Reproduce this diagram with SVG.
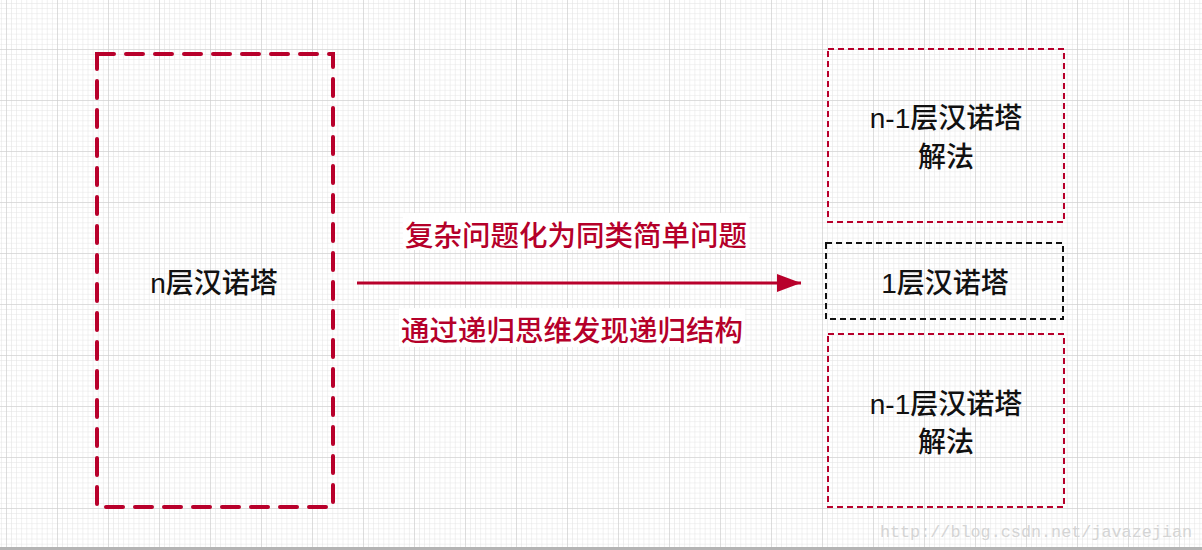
<svg xmlns="http://www.w3.org/2000/svg" width="1202" height="550" viewBox="0 0 1202 550">
<defs>
<pattern id="minor" patternUnits="userSpaceOnUse" x="6" y="-2" width="5.1" height="5.1">
<path d="M0 0H5.1M0 0V5.1" fill="none" stroke="#e2e2e2" stroke-width="1"/>
</pattern>
<pattern id="major" patternUnits="userSpaceOnUse" x="6" y="-2" width="51" height="51">
<path d="M0 0H51M0 0V51" fill="none" stroke="#cacaca" stroke-width="1"/>
</pattern>
<marker id="arrow" viewBox="0 0 24 18" refX="24" refY="9" markerWidth="24" markerHeight="18" markerUnits="userSpaceOnUse" orient="auto">
<path d="M0 0L24 9L0 18Z" fill="#b8002b"/>
</marker>
<style>
.big{fill:none;stroke:#b8002b;stroke-width:4;stroke-dasharray:17 12;stroke-linecap:round}
.red{fill:none;stroke:#b8002b;stroke-width:2;stroke-dasharray:6 4}
.blk{fill:none;stroke:#111;stroke-width:2;stroke-dasharray:6 4}
.t{font-family:"Liberation Sans","Noto Sans CJK SC",sans-serif;font-size:28px;fill:#111;text-anchor:middle;font-weight:500}
.lbl{font-family:"Noto Sans CJK SC",serif;font-size:28.5px;fill:#b5002a;text-anchor:middle;font-weight:500}
</style>
</defs>
<rect width="1202" height="550" fill="#fff"/>
<rect width="1202" height="550" fill="url(#minor)"/>
<rect width="1202" height="550" fill="url(#major)"/>
<rect x="0" y="547" width="1202" height="3" fill="#b4b4b4"/>
<g id="n-tower">
<rect class="big" x="97" y="54" width="236" height="453"/>
<text class="t" x="214" y="293">n层汉诺塔</text>
</g>
<g id="top-sub">
<rect class="red" x="828" y="49" width="236" height="173"/>
<text class="t" x="946" y="128">n-1层汉诺塔</text>
<text class="t" x="946" y="167">解法</text>
</g>
<g id="one-tower">
<rect class="blk" x="826" y="243" width="237" height="76"/>
<text class="t" x="945" y="293">1层汉诺塔</text>
</g>
<g id="bottom-sub">
<rect class="red" x="828" y="334" width="236" height="173"/>
<text class="t" x="946" y="414">n-1层汉诺塔</text>
<text class="t" x="946" y="452">解法</text>
</g>
<g id="connectors">
<line x1="357" y1="283" x2="801" y2="283" stroke="#b8002b" stroke-width="3" marker-end="url(#arrow)"/>
<rect x="403" y="213" width="346" height="37" fill="#fff"/>
<text class="lbl" x="576" y="246">复杂问题化为同类简单问题</text>
<rect x="399" y="308" width="346" height="39" fill="#fff"/>
<text class="lbl" x="572" y="341">通过递归思维发现递归结构</text>
</g>
<text x="1036" y="537" font-family="Liberation Mono,monospace" font-size="16.8" fill="#d4d4d4" text-anchor="middle">http://blog.csdn.net/javazejian</text>
</svg>
